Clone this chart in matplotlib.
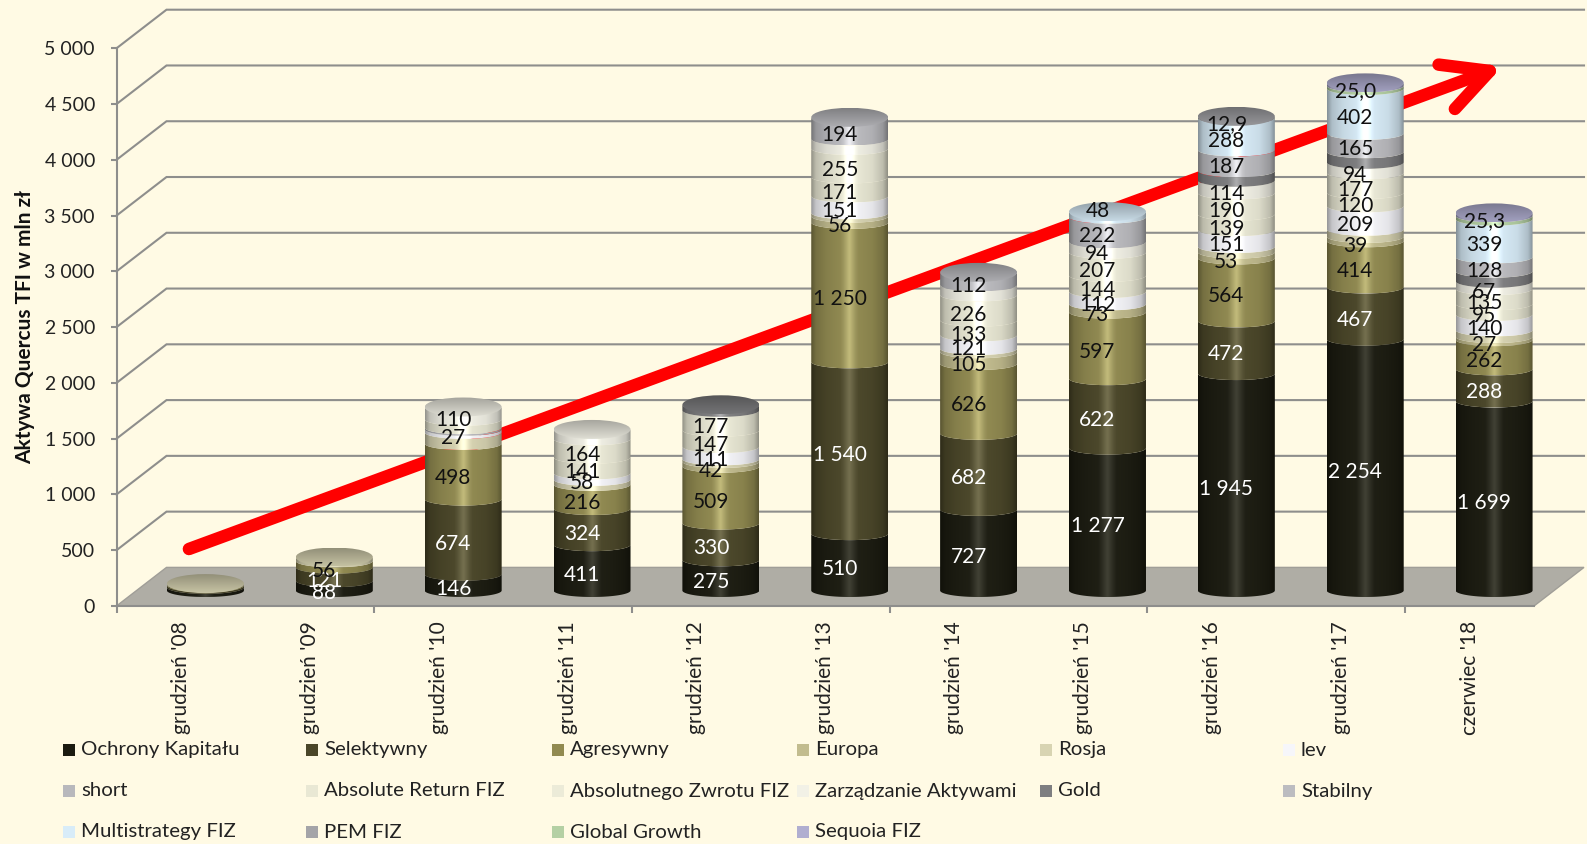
import numpy as np
import matplotlib
matplotlib.use("Agg")
import matplotlib.pyplot as plt
from matplotlib.patches import Polygon, Ellipse, Rectangle
from matplotlib.ticker import FuncFormatter

plt.rcParams['font.family'] = ['Lato', 'DejaVu Sans']

W, H = 1587, 844
BG = "#fffae4"
GRID = "#8e8e8c"

categories = ["grudzień '08", "grudzień '09", "grudzień '10", "grudzień '11", "grudzień '12", "grudzień '13",
              "grudzień '14", "grudzień '15", "grudzień '16", "grudzień '17", "czerwiec '18"]

ochrony = [28, 88, 146, 411, 275, 510, 727, 1277, 1945, 2254, 1699]
selektywny = [14, 121, 674, 324, 330, 1540, 682, 622, 472, 467, 288]
agresywny = [10, 56, 498, 216, 509, 1250, 626, 597, 564, 414, 262]
europa = [0, 0, 0, 0, 42, 56, 105, 73, 53, 39, 27]
rosja = [10, 35, 100, 45, 24, 30, 30, 0, 50, 65, 60]   # no labels on the chart
lev = [0, 0, 27, 58, 111, 151, 121, 112, 151, 209, 140]
short = [0, 0, 15, 0, 0, 0, 0, 0, 0, 0, 0]
absolute_return = [0, 0, 75, 141, 147, 171, 133, 144, 139, 120, 95]
absolutnego = [0, 0, 0, 164, 177, 255, 226, 207, 190, 177, 135]
zarzadzanie = [0, 0, 110, 85, 0, 85, 90, 94, 114, 94, 67]
gold = [0, 0, 0, 0, 50, 0, 0, 0, 85, 95, 90]
stabilny = [0, 0, 0, 0, 0, 194, 112, 222, 187, 165, 128]
multistrategy = [0, 0, 0, 0, 0, 0, 0, 48, 288, 402, 339]
pem = [0, 0, 0, 0, 0, 0, 0, 0, 12.9, 0, 0]
global_growth = [0, 0, 0, 0, 0, 0, 0, 0, 0, 25, 30]
sequoia = [0, 0, 0, 0, 0, 0, 0, 0, 0, 25.0, 25.3]

# name, values, colour
SERIES = [
    ("Ochrony Kapitału", ochrony, "#1b1b10"),
    ("Selektywny", selektywny, "#4a4628"),
    ("Agresywny", agresywny, "#918a50"),
    ("Europa", europa, "#c2bc8e"),
    ("Rosja", rosja, "#d8d4b2"),
    ("lev", lev, "#f6f6fa"),
    ("short", short, "#b8b8bc"),
    ("Absolute Return FIZ", absolute_return, "#e9e8d4"),
    ("Absolutnego Zwrotu FIZ", absolutnego, "#ecebd8"),
    ("Zarządzanie Aktywami", zarzadzanie, "#f2f1e6"),
    ("Gold", gold, "#7e7e80"),
    ("Stabilny", stabilny, "#bcbcc0"),
    ("Multistrategy FIZ", multistrategy, "#d8ecf8"),
    ("PEM FIZ", pem, "#a4a4a8"),
    ("Global Growth", global_growth, "#b4d0a4"),
    ("Sequoia FIZ", sequoia, "#b0aed0"),
]

UNLABELED = {"Rosja", "short", "Gold", "Global Growth"}
WHITE_TEXT = {"Ochrony Kapitału", "Selektywny"}
NO_LABEL = {("Absolute Return FIZ", 2), ("Zarządzanie Aktywami", 3),
            ("Zarządzanie Aktywami", 5), ("Zarządzanie Aktywami", 6)}
NO_LABEL_COLS = [0]
LABEL_NUDGE = {("Multistrategy FIZ", 7): 10}   # pixels up

# plot area on the front plane, in pixels
LEFT, RIGHT, BOTTOM, TOP = 116.5, 1534, 606, 48.3
PX_X = (RIGHT - LEFT) / 11
PX_Y = (BOTTOM - TOP) / 5000

# 3d look, in data units
DEPTH_X = 50 / PX_X
DEPTH_Y = 38.6 / PX_Y
BAR_DX = 24.5 / PX_X
BAR_DY = 15.5 / PX_Y
BAR_HW = 38.5 / PX_X
ELL_H = 6.5 / PX_Y
CAP_H = 9.5 / PX_Y
LABEL_DX = -10 / PX_X
LABEL_DY = -7 / PX_Y


def fmt(v, pos=None):
    if v in (25.0,) or v != int(v):
        return f"{v:.1f}".replace(".", ",")
    return f"{int(v):,}".replace(",", " ")


def shade(color):
    # horizontal shading of a cylinder side
    c = np.array(matplotlib.colors.to_rgb(color))
    t = np.linspace(0, 1, 80)
    f = np.interp(t, [0, .06, .2, .42, .5, .58, .8, .94, 1], [.62, .8, .9, .97, 1.1, .97, .92, .8, .62])
    h = np.interp(t, [0, .38, .5, .62, 1], [0, .02, .14, .02, 0])
    return np.clip(c[None, :] * f[:, None] + h[:, None], 0, 1)[None, :, :]


def draw_side(ax, cx, lo, hi, color, z):
    t = np.linspace(0, np.pi, 60)
    xs = cx + BAR_HW * np.cos(t)
    bottom = lo - ELL_H * np.sin(t)
    top = hi - ELL_H * np.sin(t)
    pts = np.r_[np.c_[xs, bottom], np.c_[xs[::-1], top[::-1]]]
    clip = Polygon(pts, closed=True, transform=ax.transData, fc="none", ec="none")
    ax.add_patch(clip)
    im = ax.imshow(shade(color), extent=[cx - BAR_HW, cx + BAR_HW, lo - ELL_H, hi], aspect="auto",
                   interpolation="bilinear", zorder=z)
    im.set_clip_path(clip)


def draw_cap(ax, cx, v, color, z):
    c = np.array(matplotlib.colors.to_rgb(color))
    f = np.linspace(.92, .68, 30)
    img = np.clip(c[None, :] * f[:, None], 0, 1)[:, None, :]
    clip = Ellipse((cx, v), 2 * BAR_HW, 2 * CAP_H, transform=ax.transData, fc="none", ec="none")
    ax.add_patch(clip)
    im = ax.imshow(img, extent=[cx - BAR_HW, cx + BAR_HW, v - CAP_H, v + CAP_H], aspect="auto",
                   interpolation="bilinear", zorder=z, origin="lower")
    im.set_clip_path(clip)


fig = plt.figure(figsize=(W / 100, H / 100), dpi=100, facecolor=BG)
ax = fig.add_axes([LEFT / W, 1 - BOTTOM / H, (RIGHT - LEFT) / W, (BOTTOM - TOP) / H], facecolor="none")

# floor
ax.add_patch(Polygon([(-.5, 0), (10.5, 0), (10.5 + DEPTH_X, DEPTH_Y), (-.5 + DEPTH_X, DEPTH_Y)],
                     closed=True, fc="#afada5", ec="#a09e98", lw=1, zorder=1, clip_on=False))

# walls: gridlines run back from the axis and along the wall
for v in np.arange(500, 5001, 500):
    ax.plot([-.5, -.5 + DEPTH_X, 10.5 + DEPTH_X], [v, v + DEPTH_Y, v + DEPTH_Y], color=GRID, lw=1.5,
            clip_on=False, zorder=1.5, solid_joinstyle="miter")

# trend arrow, behind the columns
ax.annotate("", xy=(10.256, 4839), xytext=(0.062, 511), annotation_clip=False, zorder=2,
            arrowprops=dict(arrowstyle="->,head_length=3.3,head_width=1.7", color="#ff0000", lw=9,
                            shrinkA=0, shrinkB=0, capstyle="round"))

# stacked columns
for i in range(len(categories)):
    cx = i + BAR_DX
    base = BAR_DY
    z = 3 + i * .1
    last = None
    for name, values, color in SERIES:
        val = values[i]
        if val == 0:
            continue
        draw_side(ax, cx, base, base + val, color, z)
        if name not in UNLABELED and (name, i) not in NO_LABEL and i not in NO_LABEL_COLS:
            up = LABEL_NUDGE.get((name, i), 0) / PX_Y
            ax.text(cx + LABEL_DX, base + val / 2 + LABEL_DY + up, fmt(val), ha="center", va="center", fontsize=15,
                    color="white" if name in WHITE_TEXT else "#111111", zorder=20)
        base += val
        last = color
    draw_cap(ax, cx, base, last, z + .05)

ax.set_xlim(-.5, 10.5)
ax.set_ylim(0, 5000)

ax.set_yticks(np.arange(0, 5001, 500))
ax.yaxis.set_major_formatter(FuncFormatter(fmt))
ax.tick_params(axis="y", length=4.5, width=1.5, color=GRID, labelsize=14, pad=11, labelcolor="#222222")
ax.set_xticks(range(len(categories)))
ax.set_xticklabels(categories, rotation=90, fontsize=15, color="#222222", va="top", ha="center")
ax.set_xticks(np.arange(-.5, 11, 2), minor=True)
ax.tick_params(axis="x", which="major", length=0, pad=11)
ax.tick_params(axis="x", which="minor", length=5, width=1.5, color=GRID)
for s in ("top", "right"):
    ax.spines[s].set_visible(False)
for s in ("left", "bottom"):
    ax.spines[s].set_color(GRID)
    ax.spines[s].set_linewidth(1.5)
    ax.spines[s].set_zorder(2.5)

fig.text(25 / W, 1 - 327 / H, "Aktywa Quercus TFI w mln zł", rotation=90, ha="center", va="center",
         fontsize=15, fontweight="bold", color="#111111")

# legend: six columns, three rows
COL_X = [63, 306, 552, 797, 1040, 1283]
ROW_Y = [750, 791, 832]
for k, (name, values, color) in enumerate(SERIES):
    px = COL_X[k % 6]
    py = ROW_Y[k // 6]
    fig.add_artist(Rectangle((px / W, 1 - (py + 6) / H), 12 / W, 12 / H, transform=fig.transFigure, fc=color, ec="none"))
    fig.text((px + 18) / W, 1 - py / H, name, ha="left", va="center", fontsize=14.7, color="#222222")

fig.savefig("out.png", dpi=100, facecolor=BG)
